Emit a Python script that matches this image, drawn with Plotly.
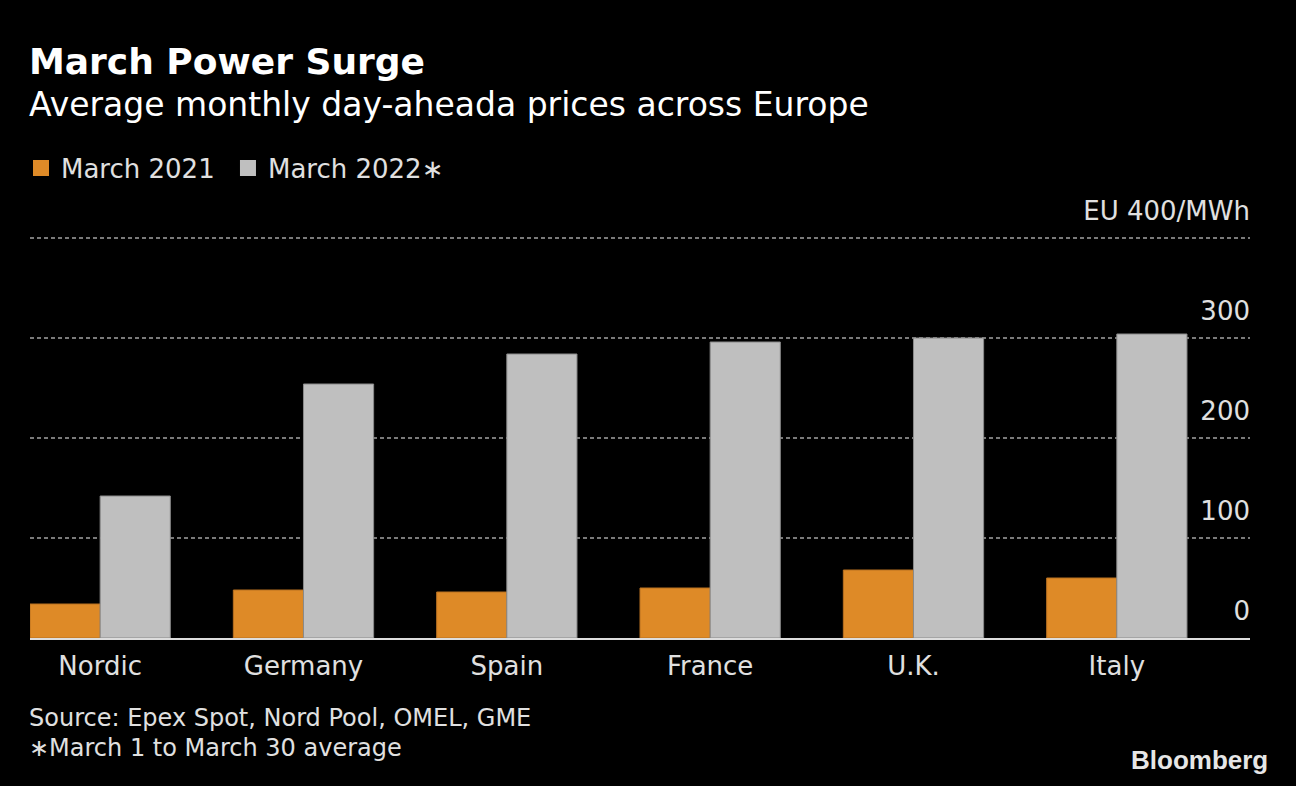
import plotly.graph_objects as go

categories = ["Nordic", "Germany", "Spain", "France", "U.K.", "Italy"]
march_2021 = [34, 48, 46, 50, 68, 60]
march_2022 = [142, 254, 284, 296, 300, 304]
series_names = ["March 2021 ", "March 2022∗"]
tick_vals = [0, 100, 200, 300, 400]
tick_text = ["0", "100", "200", "300", "EU 400/MWh"]

FONT = "DejaVu Sans"
TXT = "#e0e0e0"
ORANGE = "#DE8A27"
GRAY = "#BFBFBF"

fig = go.Figure()
fig.add_trace(go.Bar(x=categories, y=march_2021, name=series_names[0], showlegend=False,
                     marker=dict(color=ORANGE, line=dict(color="#b87020", width=1))))
fig.add_trace(go.Bar(x=categories, y=march_2022, name=series_names[1], showlegend=False,
                     marker=dict(color=GRAY, line=dict(color="#8a8a8a", width=1))))
# legend entries with larger square swatches
for nm, col in zip(series_names, [ORANGE, GRAY]):
    fig.add_trace(go.Scatter(x=[None], y=[None], mode="markers", name=nm,
                             marker=dict(symbol="square", size=19, color=col)))

H = 460.0  # plot height in px
W = 1220.0
def py(pix):
    return (638 - pix) / H
def px(pix):
    return (pix - 30) / W

fig.update_layout(
    width=1296, height=786,
    paper_bgcolor="black", plot_bgcolor="black",
    font=dict(family=FONT, color=TXT, size=26),
    margin=dict(l=30, r=46, t=178, b=148),
    barmode="group", bargap=0.31, bargroupgap=0,
    legend=dict(orientation="h", x=px(21), xanchor="left", y=py(168), yanchor="middle",
                font=dict(size=26, color=TXT), bgcolor="rgba(0,0,0,0)",
                itemsizing="trace", traceorder="normal", itemwidth=30),
    xaxis=dict(range=[-0.345, 5.655], showgrid=False, showline=True,
               linecolor="#dddddd", linewidth=2, ticks="",
               tickfont=dict(size=26, color=TXT), ticklabelstandoff=4),
    yaxis=dict(range=[0, 460], side="left", anchor="free", position=1,
               tickvals=tick_vals, ticktext=tick_text,
               ticklabelposition="outside top", ticklabelshift=-9, showgrid=True,
               gridcolor="#7a7a7a", gridwidth=2, griddash="4px,3px", zeroline=False,
               showline=False, ticks="", tickfont=dict(size=26, color=TXT), fixedrange=True),
    showlegend=True,
)

fig.add_annotation(text="<b>March Power Surge</b>", xref="paper", yref="paper",
                   x=px(27), xanchor="left", y=py(62), yanchor="middle", showarrow=False,
                   font=dict(size=36, color="white"))
fig.add_annotation(text="Average monthly day-aheada prices across Europe", xref="paper", yref="paper",
                   x=px(27), xanchor="left", y=py(105), yanchor="middle", showarrow=False,
                   font=dict(size=33, color="white"))
fig.add_annotation(text="Source: Epex Spot, Nord Pool, OMEL, GME",
                   xref="paper", yref="paper", x=px(27), xanchor="left", y=py(718), yanchor="middle",
                   align="left", showarrow=False, font=dict(size=24, color=TXT))
fig.add_annotation(text="∗March 1 to March 30 average",
                   xref="paper", yref="paper", x=px(27), xanchor="left", y=py(748), yanchor="middle",
                   align="left", showarrow=False, font=dict(size=24, color=TXT))
fig.add_annotation(text="<b>Bloomberg</b>", xref="paper", yref="paper",
                   x=px(1270), xanchor="right", y=py(760), yanchor="middle",
                   showarrow=False, font=dict(family="Liberation Sans", size=26, color="#e6e6e6"))

fig.write_html("out.html", config={"displayModeBar": False},
               post_script="document.body.style.margin='0';document.body.style.background='black';")
